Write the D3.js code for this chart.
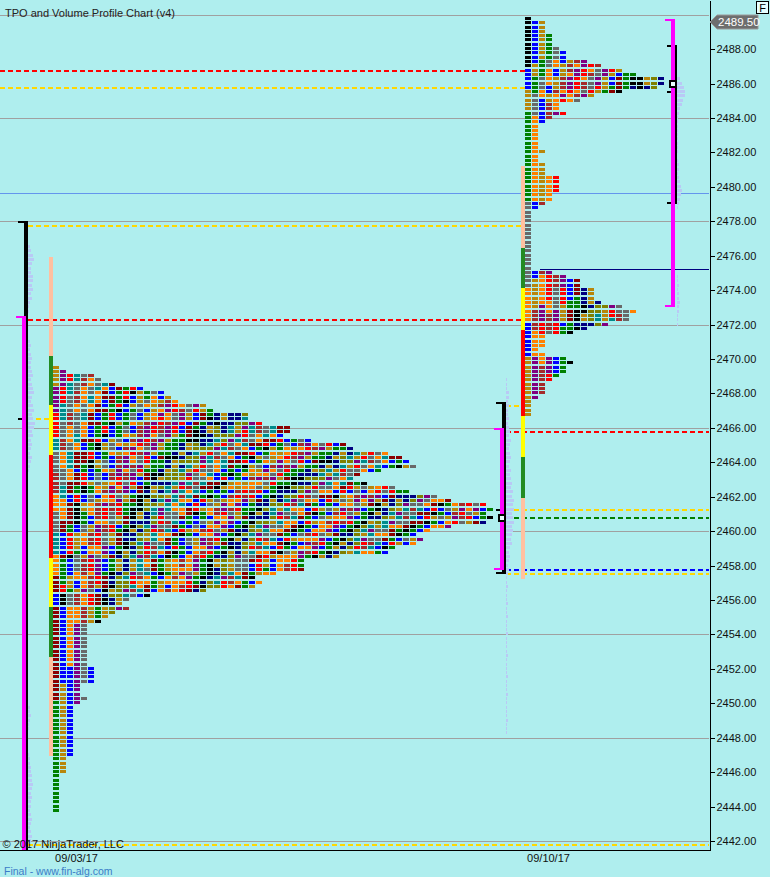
<!DOCTYPE html>
<html>
<head>
<meta charset="utf-8">
<script src="https://cdn.jsdelivr.net/npm/d3@7"></script>
<style>
  html, body { margin: 0; padding: 0; background: #afeeee; }
  svg { display: block; font-family: "Liberation Sans", Arial, sans-serif; }
</style>
</head>
<body>
<svg id="chart" width="770" height="877"></svg>
<script>
// TPO + Volume profile, two weekly sessions (NinjaTrader style)

// ── Data ──────────────────────────────────────────────────────────────────

const title         = 'TPO and Volume Profile Chart (v4)';
const sessionDates  = ['2017-09-03', '2017-09-10'];
const sessionLabels = ['09/03/17', '09/10/17'];
const tickSize      = 0.25;
const lastPrice     = 2489.5;

// TPO count per price row, from session high downwards (one entry per tick)
const profile0Top    = 2469.5;
const profile0Counts = [
  1, 2, 6, 7, 9, 13, 16, 17, 18, 22,
  23, 28, 28, 30, 34, 34, 33, 37, 42, 43,
  48, 50, 51, 52, 47, 44, 43, 45, 49, 51,
  55, 57, 62, 63, 62, 63, 62, 57, 54, 52,
  53, 52, 49, 48, 41, 36, 36, 36, 32, 29,
  30, 29, 22, 14, 11, 10, 11, 9, 8, 7,
  5, 5, 5, 5, 5, 5, 5, 5, 5, 5,
  6, 6, 6, 6, 4, 4, 4, 5, 4, 3,
  3, 3, 3, 3, 3, 3, 3, 3, 3, 3,
  3, 2, 2, 2, 2, 1, 1, 1, 1, 1,
  1, 1, 1, 1
];
const profile1Top    = 2489.75;
const profile1Counts = [
  1, 3, 3, 3, 4, 4, 4, 5, 6, 6,
  9, 11, 14, 16, 20, 20, 19, 14, 10, 8,
  5, 5, 6, 4, 3, 2, 2, 2, 2, 2,
  2, 3, 2, 2, 3, 3, 3, 5, 5, 5,
  5, 4, 4, 3, 2, 1, 1, 1, 1, 1,
  1, 1, 1, 1, 1, 1, 1, 1, 1, 4,
  6, 8, 8, 10, 10, 10, 11, 14, 16, 15,
  15, 12, 9, 7, 3, 3, 3, 2, 3, 6,
  7, 6, 6, 5, 4, 3, 3, 3, 2, 1,
  1, 1, 1
];

// Initial balance + range extension boundaries, low -> high
const ib0Levels = [2446.95, 2452.7, 2455.6, 2458.45, 2464.42, 2467.32, 2470.2, 2475.9];
const ib1Levels = [2457.22, 2461.94, 2464.32, 2466.7, 2471.68, 2474.1, 2476.46, 2481.22];

// Range / value-area brackets
const bracketTimes = ['2017-09-02T13:00', '2017-09-09T15:05', '2017-09-12T04:00'];
const rangeHigh    = [2478.0, 2467.5, 2488.25];
const rangeLow     = [2440.0, 2457.5, 2479.0];
const vaHigh       = [2472.5, 2466.0, 2489.75];
const vaLow        = [2440.0, 2457.75, 2473.0];
const openPrice    = [2466.5, 2461.25, 2485.5];
const pocPrice     = [null, 2460.75, 2486.0];

// Volume profile (contracts per tick row), segments from top price downwards
const volume0 = [
  { top: 2476.5,  v: [210, 320, 480, 590, 410, 300, 330, 520, 470, 380, 510, 290, 420, 230, 120, 110] },
  { top: 2471.0,  v: [180, 260, 220, 310, 390, 280, 330, 420, 480, 300, 410, 520, 600, 380, 320, 470,
                      560, 400, 490, 650, 570, 420, 480, 330, 380, 290, 210, 360, 270, 190, 110] },
  { top: 2449.75, v: [190, 230, 280, 200, 120, 100] },
  { top: 2447.0,  v: [110, 170, 220, 260, 300, 350, 410, 470, 390, 300, 360, 280, 310, 230, 290, 380,
                      320, 240, 300, 360, 280] }
];
const volume1 = [
  { top: 2468.75, v: [80, 90, 80, 300, 280, 220, 310, 240, 200, 260, 230,
                      310, 380, 330, 480, 420, 350, 400, 470, 430, 340, 500, 410,
                      520, 600, 540, 690, 610, 780, 700, 820, 640, 710, 800, 650, 720, 630, 520, 580,
                      420, 330, 380, 300, 240, 280,
                      200, 100, 100, 200, 100, 100, 100, 200, 100, 100, 200, 100, 100, 100, 200, 100,
                      100, 100, 100, 200, 100, 100, 100, 100, 200, 100, 100, 100, 200, 100, 100, 100,
                      100, 100, 200, 100, 100, 100] }
];
const volume2 = [
  { top: 2486.25, v: [320, 510, 680, 790, 820, 610, 480, 330, 210] },
  { top: 2484.0,  v: [100, 100, 100, 100, 100, 100, 100, 100, 100] },
  { top: 2481.5,  v: [110, 180, 220, 130, 200, 310, 420, 520, 410, 300, 190, 100] },
  { top: 2474.75, v: [100, 120, 180, 110, 200, 230, 310, 220, 190, 120, 100, 90] }
];
const volumeByBracket = [volume0, volume1, volume2];

// Horizontal reference levels
const levelPrice = [2486.75, 2485.75, 2477.75, 2472.25, 2466.5, 2467.25, 2465.75, 2461.25, 2460.75, 2457.75, 2457.5, 2441.75, 2479.625, 2475.25];
const levelKind  = ['vah', 'val', 'val', 'vah', 'open', 'open', 'vah', 'val', 'poc', 'ibLow', 'val', 'val', 'settle', 'vwap'];
const levelFrom  = ['left', 'left', 'b0', 'b0', 'b0', 'b1', 'b1', 'b1', 'b1', 'b1', 'b1', 'b0', 'left', '2017-09-10T05:20'];
const levelTo    = ['p1', 'p1', 'p1', 'p1', 'p0bar', 'p1', 'right', 'right', 'right', 'right', 'right', 'right', 'right', 'right'];

// Axis values
const yTickValues = [2442, 2444, 2446, 2448, 2450, 2452, 2454, 2456, 2458, 2460, 2462, 2464,
                     2466, 2468, 2470, 2472, 2474, 2476, 2478, 2480, 2482, 2484, 2486, 2488];
const gridValues  = [2442, 2448, 2454, 2460, 2466, 2472, 2478, 2484, 2490];

// ── Styles ────────────────────────────────────────────────────────────────

const BG        = '#afeeee';
const PLOT_W    = 709;
const PLOT_H    = 850;
const COL_PITCH = 7;
const CELL_W    = 6;
const CELL_H    = 3;
const FONT      = '"Liberation Sans", Arial, sans-serif';
const tpoPalette = {
  g: '#696969', r: '#ff0000', p: '#800080', b: '#0000ff', o: '#ff8000', n: '#000080',
  y: '#b8860b', v: '#808000', w: '#a52a2a', d: '#8b0000', e: '#008000', t: '#008b8b', k: '#000000'
};
// colour of each 30-min period letter, in period order
const periodLetters = 'yogernbpwtdkvyrgoebnwtpdkyvogrbnetpwydkgvrobeyo';
const ibColors = ['#ffc0a0', '#228b22', '#ffff00', '#ff0000', '#ffff00', '#228b22', '#ffc0a0'];
const levelStyle = {
  vah:    { color: '#ff0000', width: 2, dash: '5,3' },
  val:    { color: '#ffd700', width: 2, dash: '5,3' },
  open:   { color: '#ffd700', width: 2, dash: '5,3' },
  poc:    { color: '#008000', width: 2, dash: '5,3' },
  ibLow:  { color: '#0000ff', width: 2, dash: '5,3' },
  settle: { color: '#6495ed', width: 1, dash: null },
  vwap:   { color: '#000080', width: 1, dash: null }
};
const VOL_COLOR = '#b9c9f5';

// ── Scales ────────────────────────────────────────────────────────────────

const parseDay  = d3.timeParse('%Y-%m-%d');
const parseTime = d3.timeParse('%Y-%m-%dT%H:%M');
const sessions  = sessionDates.map(parseDay);

const y    = d3.scaleLinear().domain([2441.48, 2490.85]).range([PLOT_H, 0]);
const x    = d3.scaleTime().domain(sessions).range([53, 525]);
const volX = d3.scaleLinear().domain([0, 100]).range([0, 1]);

const svg = d3.select('#chart');
svg.append('rect').attr('width', 770).attr('height', 877).attr('fill', BG);

svg.append('defs').append('clipPath').attr('id', 'plot-clip')
  .append('rect').attr('width', PLOT_W).attr('height', PLOT_H);

const plot = svg.append('g').attr('clip-path', 'url(#plot-clip)')
  .attr('shape-rendering', 'crispEdges');

// ── Grid ──────────────────────────────────────────────────────────────────

plot.append('g').selectAll('line').data(gridValues).join('line')
  .attr('x1', 0).attr('x2', PLOT_W)
  .attr('y1', d => Math.round(y(d)) + 0.5).attr('y2', d => Math.round(y(d)) + 0.5)
  .attr('stroke', '#a0a0a0').attr('stroke-width', 1);

// ── Reference lines ──────────────────────────────────────────────────────

const bracketX = bracketTimes.map(t => x(parseTime(t)));
const anchors = {
  left: 0,
  right: PLOT_W,
  b0: bracketX[0] + 6,
  b1: bracketX[1] + 6,
  b2: bracketX[2] + 6,
  p0: x(sessions[0]),
  p1: x(sessions[1]),
  p0bar: x(sessions[0]) - 4,
  p1bar: x(sessions[1]) - 4
};
const anchorX = key => (key in anchors) ? anchors[key] : x(parseTime(key));

const levels = levelPrice.map((p, i) => ({
  price: p, style: levelStyle[levelKind[i]], x1: anchorX(levelFrom[i]), x2: anchorX(levelTo[i])
}));

plot.append('g').selectAll('line').data(levels).join('line')
  .attr('x1', d => d.x1).attr('x2', d => d.x2)
  .attr('y1', d => Math.round(y(d.price)) + (d.style.width === 1 ? 0.5 : 0))
  .attr('y2', d => Math.round(y(d.price)) + (d.style.width === 1 ? 0.5 : 0))
  .attr('stroke', d => d.style.color)
  .attr('stroke-width', d => d.style.width)
  .attr('stroke-dasharray', d => d.style.dash);

// ── Volume profiles ──────────────────────────────────────────────────────

const volRows = [];
volumeByBracket.forEach((segs, b) => {
  segs.forEach(seg => seg.v.forEach((v, i) => {
    volRows.push({ x: bracketX[b] + 6, price: seg.top - i * tickSize, v });
  }));
});

plot.append('g').selectAll('rect').data(volRows).join('rect')
  .attr('x', d => d.x)
  .attr('y', d => Math.round(y(d.price)) - 2)
  .attr('width', d => Math.max(1, volX(d.v)))
  .attr('height', CELL_H)
  .attr('fill', VOL_COLOR);

// ── Range / value-area brackets ───────────────────────────────────────────

const gBr = plot.append('g');
bracketX.forEach((a, i) => {
  const yh = y(rangeHigh[i]), yl = y(rangeLow[i]);
  gBr.append('rect').attr('x', a + 2).attr('y', yh).attr('width', 4).attr('height', yl - yh).attr('fill', '#000');
  gBr.append('rect').attr('x', a - 4).attr('y', yh).attr('width', 10).attr('height', 2).attr('fill', '#000');
  gBr.append('rect').attr('x', a - 4).attr('y', yl - 2).attr('width', 10).attr('height', 2).attr('fill', '#000');
  gBr.append('rect').attr('x', a - 4).attr('y', y(openPrice[i]) - 1).attr('width', 5).attr('height', 2).attr('fill', '#000');

  const vh = y(vaHigh[i]), vl = y(vaLow[i]);
  gBr.append('rect').attr('x', a).attr('y', vh).attr('width', 4).attr('height', vl - vh).attr('fill', '#ff00ff');
  gBr.append('rect').attr('x', a - 6).attr('y', vh).attr('width', 10).attr('height', 2).attr('fill', '#ff00ff');
  gBr.append('rect').attr('x', a - 6).attr('y', vl - 2).attr('width', 10).attr('height', 2).attr('fill', '#ff00ff');

  if (pocPrice[i] != null) {
    gBr.append('rect').attr('x', a - 1).attr('y', Math.round(y(pocPrice[i])) - 3)
      .attr('width', 6).attr('height', 6)
      .attr('fill', '#e8ffff').attr('stroke', '#000').attr('stroke-width', 2);
  }
});

// ── Initial balance bars ──────────────────────────────────────────────────

[ib0Levels, ib1Levels].forEach((lv, s) => {
  const segs = d3.pairs(lv).map(([lo, hi], i) => ({ lo, hi, color: ibColors[i] }));
  plot.append('g').selectAll('rect').data(segs).join('rect')
    .attr('x', x(sessions[s]) - 4)
    .attr('y', d => y(d.hi))
    .attr('width', 4)
    .attr('height', d => y(d.lo) - y(d.hi))
    .attr('fill', d => d.color);
});

// ── TPO cells ─────────────────────────────────────────────────────────────
// Column j of a row is the j-th period that traded at that price. Early
// columns belong to wide-range periods, so they stay the same over many rows.

function profileCells(top, counts, session) {
  const cells = [];
  let shift = 0;
  counts.forEach((n, i) => {
    if (i > 0) {
      const prev = counts[i - 1];
      if (n !== prev || n > 8) shift += Math.abs(n - prev) * 3 + 1;
    }
    for (let j = 0; j < n; j++) {
      const period = j + Math.floor(shift * (4 + j) / 160);
      const h = (period * 7 + session * 11) % periodLetters.length;
      cells.push({ price: top - i * tickSize, col: j, color: tpoPalette[periodLetters[h]], session });
    }
  });
  return cells;
}

const cells = [
  ...profileCells(profile0Top, profile0Counts, 0),
  ...profileCells(profile1Top, profile1Counts, 1)
];

plot.append('g').selectAll('rect').data(cells).join('rect')
  .attr('x', d => x(sessions[d.session]) + d.col * COL_PITCH)
  .attr('y', d => Math.round(y(d.price)) - 2)
  .attr('width', CELL_W)
  .attr('height', CELL_H)
  .attr('fill', d => d.color);

// ── Axes ──────────────────────────────────────────────────────────────────

const gY = svg.append('g').attr('transform', `translate(${PLOT_W + 0.5},0)`)
  .call(d3.axisRight(y).tickValues(yTickValues).tickSize(5).tickSizeOuter(0).tickPadding(2)
    .tickFormat(d3.format('.2f')));
gY.selectAll('text').attr('font-size', 11).attr('font-family', FONT).attr('fill', '#111');
gY.selectAll('line, path').attr('stroke', '#000').attr('shape-rendering', 'crispEdges');

svg.append('line')
  .attr('x1', 0).attr('x2', PLOT_W + 1)
  .attr('y1', PLOT_H + 0.5).attr('y2', PLOT_H + 0.5)
  .attr('stroke', '#000').attr('stroke-width', 1);

const gX = svg.append('g').attr('transform', `translate(23,${PLOT_H})`)
  .call(d3.axisBottom(x).tickValues(sessions).tickSize(0).tickPadding(4)
    .tickFormat((d, i) => sessionLabels[i]));
gX.select('.domain').remove();
gX.selectAll('text').attr('font-size', 11).attr('font-family', FONT).attr('fill', '#111');

// ── Last price marker ─────────────────────────────────────────────────────

const ly = Math.round(y(lastPrice)) - 1;
svg.append('path')
  .attr('d', `M${PLOT_W + 1},${ly} L${PLOT_W + 8},${ly - 7} H758 V${ly + 7} H${PLOT_W + 8} Z`)
  .attr('fill', '#6e6e6e').attr('stroke', '#9a9a9a').attr('stroke-width', 1);
svg.append('text')
  .attr('x', PLOT_W + 9).attr('y', ly + 4)
  .attr('font-size', 11.5).attr('fill', '#fff')
  .text(d3.format('.2f')(lastPrice));

// "F" box
svg.append('rect').attr('x', 756.5).attr('y', 1.5).attr('width', 12).attr('height', 12)
  .attr('fill', '#e6ffff').attr('stroke', '#000');
svg.append('text').attr('x', 762.5).attr('y', 11.5).attr('text-anchor', 'middle')
  .attr('font-size', 11).attr('fill', '#000').text('F');

// ── Texts ─────────────────────────────────────────────────────────────────

svg.append('text').attr('x', 5).attr('y', 16.5).attr('font-size', 11).attr('fill', '#222').text(title);
svg.append('text').attr('x', 2.5).attr('y', 847.5).attr('font-size', 11).attr('fill', '#111')
  .text('\u00a9 2017 NinjaTrader, LLC');
svg.append('text').attr('x', 4).attr('y', 875).attr('font-size', 10.5).attr('fill', '#3a7cc8')
  .text('Final - www.fin-alg.com');
</script>
</body>
</html>
